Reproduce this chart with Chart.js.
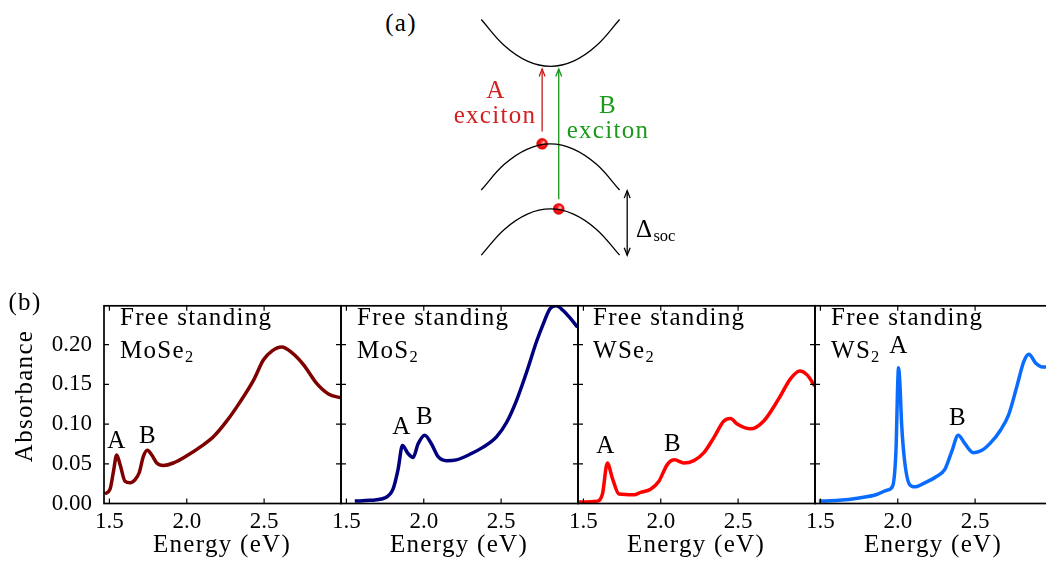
<!DOCTYPE html>
<html>
<head>
<meta charset="utf-8">
<script src="https://cdn.jsdelivr.net/npm/chart.js@4.4.1/dist/chart.umd.min.js"></script>
<style>
  html, body { margin: 0; padding: 0; background: #fff; overflow: hidden; width: 1046px; height: 566px; }
  canvas { position: absolute; }
  .lbl { position: absolute; font-family: "Liberation Serif", "Times New Roman", "DejaVu Serif", serif; font-size: 25px; line-height: 1; white-space: nowrap; color: #000; letter-spacing: 1.3px; }
  .c { transform: translate(-50%, -50%); }
  .l { transform: translate(0, -50%); }
  .rot { transform: translate(-50%, -50%) rotate(-90deg); }
  sub { font-size: 0.66em; vertical-align: -0.3em; line-height: 0; letter-spacing: 0; }
  .red { color: #d42020; }
  .green { color: #1c9a1c; }
</style>
</head>
<body>
<canvas id="diagram" width="260" height="280" style="left:440px;top:0px"></canvas>
<canvas id="p1" width="349" height="286" style="left:0px;top:280px"></canvas>
<canvas id="p2" width="265" height="286" style="left:321px;top:280px"></canvas>
<canvas id="p3" width="265" height="286" style="left:558px;top:280px"></canvas>
<canvas id="p4" width="265" height="286" style="left:795px;top:280px"></canvas>

<!-- (a) labels -->
<div class="lbl c" style="left:401px;top:22px">(a)</div>
<div class="lbl c red" style="left:496px;top:89px">A</div>
<div class="lbl c red" style="left:495px;top:114px">exciton</div>
<div class="lbl c green" style="left:608px;top:104px">B</div>
<div class="lbl c green" style="left:608px;top:129px">exciton</div>
<div class="lbl l" style="left:636px;top:228px">Δ<sub>soc</sub></div>

<!-- (b) labels -->
<div class="lbl c" style="left:25px;top:301px">(b)</div>
<div class="lbl rot" style="left:23px;top:396px">Absorbance</div>
<div class="lbl c" style="left:222px;top:543px">Energy (eV)</div>
<div class="lbl c" style="left:459px;top:543px">Energy (eV)</div>
<div class="lbl c" style="left:696px;top:543px">Energy (eV)</div>
<div class="lbl c" style="left:933px;top:543px">Energy (eV)</div>

<div class="lbl l" style="left:120px;top:316px">Free standing</div>
<div class="lbl l" style="left:120px;top:349px">MoSe<sub>2</sub></div>
<div class="lbl c" style="left:117px;top:439px">A</div>
<div class="lbl c" style="left:148px;top:434px">B</div>

<div class="lbl l" style="left:357px;top:316px">Free standing</div>
<div class="lbl l" style="left:357px;top:349px">MoS<sub>2</sub></div>
<div class="lbl c" style="left:402px;top:425px">A</div>
<div class="lbl c" style="left:425px;top:415px">B</div>

<div class="lbl l" style="left:593px;top:316px">Free standing</div>
<div class="lbl l" style="left:593px;top:349px">WSe<sub>2</sub></div>
<div class="lbl c" style="left:606px;top:444px">A</div>
<div class="lbl c" style="left:673px;top:442px">B</div>

<div class="lbl l" style="left:831px;top:316px">Free standing</div>
<div class="lbl l" style="left:831px;top:349px">WS<sub>2</sub></div>
<div class="lbl c" style="left:899px;top:344px">A</div>
<div class="lbl c" style="left:958px;top:416px">B</div>

<script>
// band diagram (k in arbitrary units, energy in units of the spin-orbit splitting)
const bandK = [-1, -0.667, -0.333, 0, 0.333, 0.667, 1];
const conductionE = [2.91, 2.51, 2.27, 2.19, 2.27, 2.51, 2.91];
const upperValenceE = [0.29, 0.685, 0.92, 1.0, 0.92, 0.685, 0.29];
const lowerValenceE = [-0.71, -0.315, -0.079, 0, -0.079, -0.315, -0.71];
const arrowAK = [-0.12, -0.12];
const arrowAE = [1.19, 2.15];
const arrowBK = [0.12, 0.12];
const arrowBE = [0.15, 2.15];
const socK = [1.11, 1.11];
const socE = [-0.71, 0.28];
const holeK = [-0.12, 0.12];
const holeE = [1.0, 0.0];

// absorbance spectra
const moSe2Energy = [1.47, 1.504, 1.525, 1.547, 1.569, 1.601, 1.633, 1.666, 1.693, 1.719, 1.745, 1.774, 1.806, 1.849, 1.913, 2.0, 2.086, 2.172, 2.259, 2.345, 2.431, 2.496, 2.55, 2.614, 2.679, 2.754, 2.841, 2.916, 2.997];
const moSe2Abs = [0.012, 0.018, 0.039, 0.061, 0.049, 0.028, 0.026, 0.030, 0.039, 0.059, 0.067, 0.061, 0.051, 0.048, 0.051, 0.060, 0.071, 0.084, 0.104, 0.128, 0.155, 0.181, 0.192, 0.197, 0.190, 0.175, 0.151, 0.138, 0.133];

const moS2Energy = [1.554, 1.651, 1.748, 1.801, 1.834, 1.862, 1.898, 1.931, 1.963, 2.006, 2.05, 2.093, 2.147, 2.211, 2.298, 2.384, 2.47, 2.535, 2.6, 2.664, 2.729, 2.772, 2.815, 2.858, 2.901, 2.944, 2.995];
const moS2Abs = [0.003, 0.004, 0.007, 0.018, 0.043, 0.073, 0.063, 0.058, 0.075, 0.086, 0.075, 0.059, 0.054, 0.055, 0.062, 0.071, 0.084, 0.102, 0.130, 0.165, 0.204, 0.226, 0.245, 0.249, 0.243, 0.234, 0.222];

const wSe2Energy = [1.472, 1.59, 1.623, 1.655, 1.687, 1.73, 1.827, 1.87, 1.934, 1.988, 2.042, 2.089, 2.149, 2.214, 2.279, 2.343, 2.408, 2.451, 2.494, 2.58, 2.666, 2.763, 2.838, 2.898, 2.946, 2.995];
const wSe2Abs = [0.002, 0.003, 0.012, 0.051, 0.032, 0.012, 0.011, 0.014, 0.018, 0.028, 0.049, 0.055, 0.051, 0.054, 0.064, 0.083, 0.104, 0.107, 0.100, 0.094, 0.104, 0.132, 0.157, 0.167, 0.162, 0.148];

const wS2Energy = [1.49, 1.62, 1.75, 1.859, 1.935, 1.967, 1.99, 1.998, 2.005, 2.014, 2.025, 2.044, 2.076, 2.109, 2.174, 2.25, 2.304, 2.348, 2.391, 2.435, 2.489, 2.544, 2.598, 2.663, 2.717, 2.772, 2.815, 2.848, 2.891, 2.935, 2.963, 2.995];
const wS2Abs = [0.003, 0.004, 0.007, 0.011, 0.017, 0.022, 0.075, 0.140, 0.171, 0.150, 0.100, 0.054, 0.024, 0.021, 0.026, 0.034, 0.043, 0.065, 0.086, 0.075, 0.064, 0.067, 0.076, 0.092, 0.112, 0.149, 0.179, 0.188, 0.177, 0.172, 0.172, 0.171];

const xTicksStep = 0.5;
const yTicksStep = 0.05;
const tickFont = { family: "'Liberation Serif', 'Times New Roman', 'DejaVu Serif', serif", size: 23 };

function toPoints(xs, ys) {
    return xs.map((x, i) => ({ x: x, y: ys[i] }));
}

// frame + inward ticks on all four sides
const framePlugin = {
    id: "frame",
    afterDatasetsDraw(chart) {
        const { ctx, chartArea: a, scales } = chart;
        const len = 5;
        ctx.save();
        ctx.strokeStyle = "#000";
        ctx.lineWidth = 1.2;
        ctx.beginPath();
        scales.x.ticks.forEach(t => {
            const px = scales.x.getPixelForValue(t.value);
            ctx.moveTo(px, a.bottom);
            ctx.lineTo(px, a.bottom - len);
            ctx.moveTo(px, a.top);
            ctx.lineTo(px, a.top + len);
        });
        scales.y.ticks.forEach(t => {
            const py = scales.y.getPixelForValue(t.value);
            ctx.moveTo(a.left, py);
            ctx.lineTo(a.left + len, py);
            ctx.moveTo(a.right, py);
            ctx.lineTo(a.right - len, py);
        });
        ctx.stroke();
        ctx.lineWidth = 1.7;
        ctx.strokeRect(a.left, a.top, a.right - a.left, a.bottom - a.top);
        ctx.restore();
    }
};

// open arrow heads for the transitions in (a)
const arrowPlugin = {
    id: "arrows",
    afterDatasetsDraw(chart) {
        const ctx = chart.ctx;
        chart.data.datasets.forEach((ds, i) => {
            if (!ds.arrowHeads) return;
            const pts = chart.getDatasetMeta(i).data;
            ctx.save();
            ctx.strokeStyle = ds.borderColor;
            ctx.lineWidth = ds.borderWidth;
            ds.arrowHeads.forEach(idx => {
                const tip = pts[idx];
                const other = pts[idx === 0 ? 1 : 0];
                const ang = Math.atan2(tip.y - other.y, tip.x - other.x);
                const len = 8, spread = 0.38;
                ctx.beginPath();
                ctx.moveTo(tip.x - len * Math.cos(ang - spread), tip.y - len * Math.sin(ang - spread));
                ctx.lineTo(tip.x, tip.y);
                ctx.lineTo(tip.x - len * Math.cos(ang + spread), tip.y - len * Math.sin(ang + spread));
                ctx.stroke();
            });
            ctx.restore();
        });
    }
};

// shaded red ball for the holes
function holeFill(context) {
    const el = context.element;
    if (!el || el.x === undefined) return "#ff1a1a";
    const g = context.chart.ctx.createRadialGradient(el.x + 1.5, el.y - 1.5, 0.5, el.x, el.y, 6);
    g.addColorStop(0, "#ffb0b0");
    g.addColorStop(0.35, "#ff1f1f");
    g.addColorStop(1, "#d80000");
    return g;
}

function makeDiagram() {
    const ctx = document.getElementById("diagram").getContext("2d");
    const band = (ys) => ({
        data: toPoints(bandK, ys), showLine: true, borderColor: "#000", borderWidth: 1.3,
        pointRadius: 0, tension: 0.4
    });
    const arrow = (xs, ys, color, heads) => ({
        data: toPoints(xs, ys), showLine: true, borderColor: color, borderWidth: 1.3,
        pointRadius: 0, arrowHeads: heads
    });
    return new Chart(ctx, {
        type: "scatter",
        data: {
            datasets: [
                band(conductionE),
                band(upperValenceE),
                band(lowerValenceE),
                arrow(arrowAK, arrowAE, "#c81818", [1]),
                arrow(arrowBK, arrowBE, "#15961a", [1]),
                arrow(socK, socE, "#000", [0, 1]),
                {
                    data: toPoints(holeK, holeE), pointRadius: 5.5, pointBackgroundColor: holeFill,
                    pointBorderColor: "#e00000", pointBorderWidth: 0.5, showLine: false
                }
            ]
        },
        options: {
            responsive: false, animation: false, events: [],
            layout: { padding: 0 },
            plugins: { legend: { display: false }, tooltip: { enabled: false } },
            scales: {
                x: { type: "linear", display: false, min: -1.51, max: 2.076 },
                y: { type: "linear", display: false, min: -1.0, max: 3.118 }
            }
        },
        plugins: [arrowPlugin]
    });
}

function makePanel(id, energy, abs, color, showYLabels, axisW) {
    const ctx = document.getElementById(id).getContext("2d");
    return new Chart(ctx, {
        type: "line",
        data: {
            datasets: [{
                data: toPoints(energy, abs),
                borderColor: color,
                borderWidth: 3.5,
                pointRadius: 0,
                cubicInterpolationMode: "monotone",
                fill: false
            }]
        },
        options: {
            responsive: false, animation: false, events: [],
            layout: { padding: { top: 11, right: 8, left: 0, bottom: 0 } },
            plugins: { legend: { display: false }, tooltip: { enabled: false } },
            scales: {
                x: {
                    type: "linear", min: 1.465, max: 2.997,
                    grid: { display: false, drawTicks: false }, border: { display: false },
                    ticks: {
                        stepSize: xTicksStep, includeBounds: false, autoSkip: false, maxRotation: 0,
                        padding: 5, color: "#000", font: tickFont,
                        callback: v => v.toFixed(1)
                    },
                    afterFit: s => { s.height = 62.5; }
                },
                y: {
                    type: "linear", min: 0, max: 0.249,
                    grid: { display: false, drawTicks: false }, border: { display: false },
                    ticks: {
                        stepSize: yTicksStep, includeBounds: false, padding: 12, color: "#000", font: tickFont,
                        callback: v => showYLabels ? v.toFixed(2) : ""
                    },
                    afterFit: s => { s.width = axisW; }
                }
            }
        },
        plugins: [framePlugin]
    });
}

document.addEventListener("DOMContentLoaded", () => {
    makeDiagram();
    makePanel("p1", moSe2Energy, moSe2Abs, "#7f0000", true, 104);
    makePanel("p2", moS2Energy, moS2Abs, "#00007f", false, 20);
    makePanel("p3", wSe2Energy, wSe2Abs, "#ff0000", false, 20);
    makePanel("p4", wS2Energy, wS2Abs, "#0a6cff", false, 20);
});
</script>
</body>
</html>
